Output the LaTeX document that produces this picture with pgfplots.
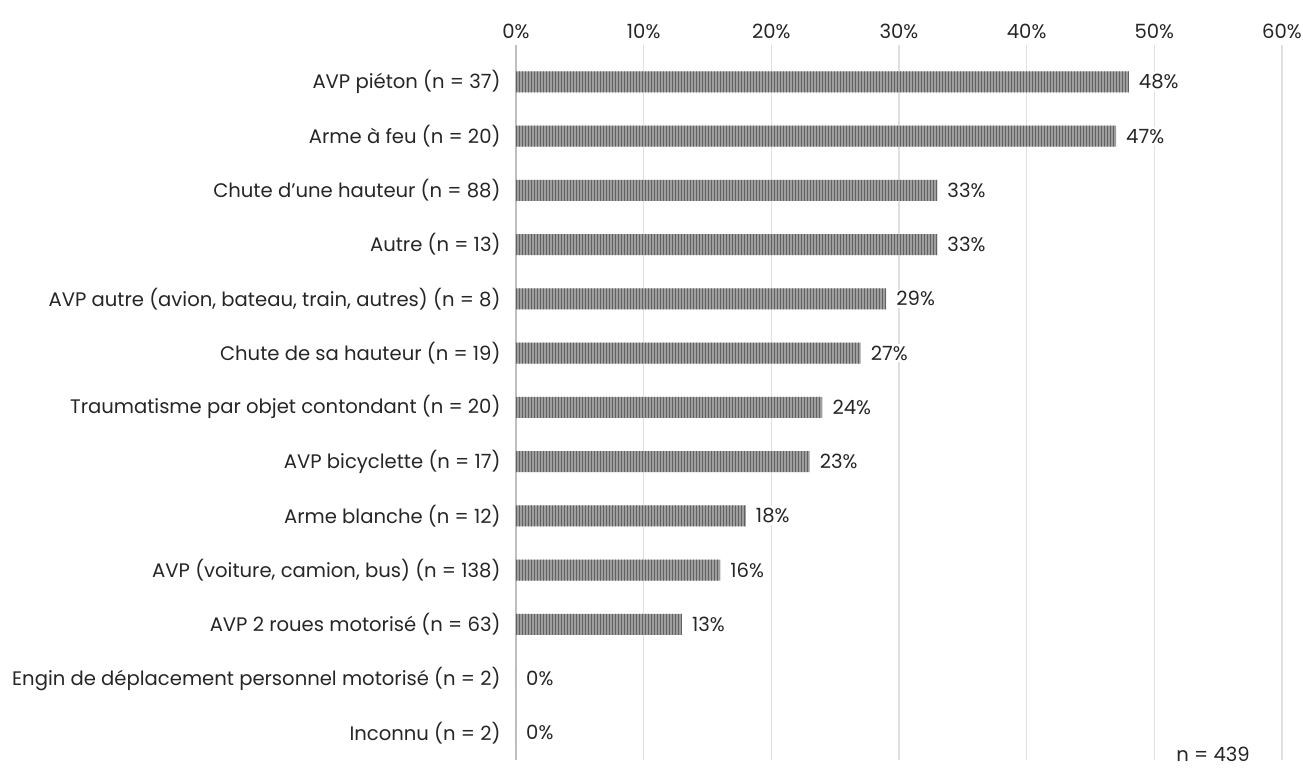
\documentclass[border=0pt]{standalone}
\usepackage{pgfplots}
\pgfplotsset{compat=1.18}
\usetikzlibrary{patterns,calc}
\usepackage{fontspec}
\setmainfont{Poppins}
\newcommand{\lblfont}{\fontsize{19.6}{23}\selectfont}
\begin{document}
\begin{tikzpicture}
\begin{axis}[
  scale only axis, width=766pt, height=715pt,
  xbar, bar width=21pt, bar shift=0pt,
  xmin=0, xmax=60, ymin=-0.5, ymax=12.68,
  axis y line*=left, axis x line*=top,
  x axis line style={draw=none},
  y axis line style={draw=black!25, line width=2pt},
  xtick={0,10,...,60},
  xticklabel={\pgfmathprintnumber{\tick}\%},
  xticklabel pos=top,
  major tick length=0pt,
  xmajorgrids, grid style={black!12, line width=1.5pt},
  ytick={0,...,12},
  yticklabels={Inconnu (n = 2),
    Engin de déplacement personnel motorisé (n = 2),
    AVP 2 roues motorisé (n = 63),
    {AVP (voiture, camion, bus) (n = 138)},
    Arme blanche (n = 12),
    AVP bicyclette (n = 17),
    Traumatisme par objet contondant (n = 20),
    Chute de sa hauteur (n = 19),
    {AVP autre (avion, bateau, train, autres) (n = 8)},
    Autre (n = 13),
    Chute d'une hauteur (n = 88),
    Arme à feu (n = 20),
    AVP piéton (n = 37)},
  tick label style={font=\lblfont, text=black!85},
  yticklabel style={xshift=-12pt},
  xticklabel style={yshift=3pt},
  /pgf/number format/assume math mode=true,
  clip=false,
]
\addplot[fill=black!38, draw=none, postaction={pattern=vertical lines, pattern color=black!62}] coordinates {
  (0,0) (0,1) (13,2) (16,3) (18,4) (23,5) (24,6) (27,7) (29,8) (33,9) (33,10) (47,11) (48,12)};
\addplot[draw=none, fill=none, point meta=x,
  nodes near coords={\pgfmathprintnumber{\pgfplotspointmeta}\%},
  nodes near coords style={font=\lblfont, text=black!85, fill=white, inner sep=2pt, anchor=west, xshift=8pt}]
  coordinates {
  (0,0) (0,1) (13,2) (16,3) (18,4) (23,5) (24,6) (27,7) (29,8) (33,9) (33,10) (47,11) (48,12)};
\node[font=\lblfont, text=black!85, fill=white, inner sep=1pt] at (axis cs:54.6,-0.5) [yshift=6pt] {n = 439};
\end{axis}
\pgfresetboundingbox
\useasboundingbox ($(current axis.south west)+(-516pt,-9pt)$) rectangle ($(current axis.north east)+(21pt,45pt)$);
\end{tikzpicture}
\end{document}
